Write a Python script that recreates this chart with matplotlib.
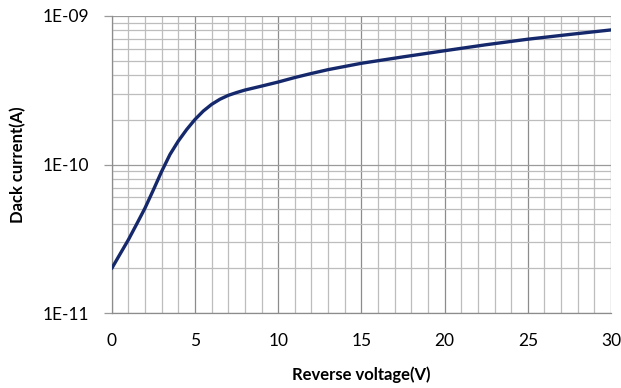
import matplotlib.pyplot as plt
from matplotlib.ticker import FixedLocator, LogLocator, NullFormatter

# data
voltage = [0, 0.5, 1, 1.5, 2, 2.5, 3, 3.5, 4, 4.5, 5, 5.5, 6, 6.5, 7, 7.5, 8, 9,
           10, 11, 12, 13, 15, 17.5, 20, 22.5, 25, 27.5, 30]
current = [2.0e-11, 2.5e-11, 3.12e-11, 3.98e-11, 5.1e-11, 6.75e-11, 9.0e-11, 1.17e-10,
           1.44e-10, 1.72e-10, 2.01e-10, 2.29e-10, 2.54e-10, 2.75e-10, 2.92e-10,
           3.05e-10, 3.17e-10, 3.37e-10, 3.59e-10, 3.85e-10, 4.1e-10, 4.35e-10,
           4.8e-10, 5.3e-10, 5.83e-10, 6.4e-10, 6.97e-10, 7.5e-10, 8.05e-10]
x_ticks = [0, 5, 10, 15, 20, 25, 30]
y_ticks = [1e-11, 1e-10, 1e-9]
y_labels = ['1E-11', '1E-10', '1E-09']

plt.rcParams['font.family'] = ['Lato', 'DejaVu Sans']

fig = plt.figure(figsize=(6.21, 3.88), dpi=100, facecolor='white')
ax = fig.add_axes([0.180, 0.193, 0.804, 0.766])

ax.set_yscale('log')
ax.set_xlim(0, 30)
ax.set_ylim(1e-11, 1e-9)

# grid: minor every 1 V / log minors, major every 5 V / decades
ax.xaxis.set_major_locator(FixedLocator(x_ticks))
ax.xaxis.set_minor_locator(FixedLocator(range(0, 31)))
ax.yaxis.set_major_locator(FixedLocator(y_ticks))
ax.yaxis.set_minor_locator(LogLocator(base=10, subs=range(2, 10)))
ax.yaxis.set_minor_formatter(NullFormatter())
ax.set_yticklabels(y_labels)

ax.grid(True, which='minor', color='#bdbdbd', linewidth=0.9)
ax.grid(True, which='major', axis='x', color='#8c8c8c', linewidth=0.9)
ax.grid(True, which='major', axis='y', color='#9a9a9a', linewidth=0.9)
ax.set_axisbelow(True)

ax.plot(voltage, current, color='#14286b', linewidth=2.4, solid_capstyle='round',
        solid_joinstyle='round', zorder=3)

for s in ['top', 'right']:
    ax.spines[s].set_visible(False)
for s in ['left', 'bottom']:
    ax.spines[s].set_color('#8c8c8c')
    ax.spines[s].set_linewidth(0.9)

ax.tick_params(axis='x', which='both', length=0, pad=14, labelsize=12.5)
ax.tick_params(axis='y', which='major', length=6, color='#9a9a9a', width=0.9,
               pad=10, labelsize=12.5)
ax.tick_params(axis='y', which='minor', length=0)

ax.set_xlabel('Reverse voltage(V)', fontsize=12, fontweight='bold', labelpad=13)
ax.set_ylabel('Dack current(A)', fontsize=12, fontweight='bold', labelpad=12)

fig.savefig('out.png', dpi=100, facecolor='white')
